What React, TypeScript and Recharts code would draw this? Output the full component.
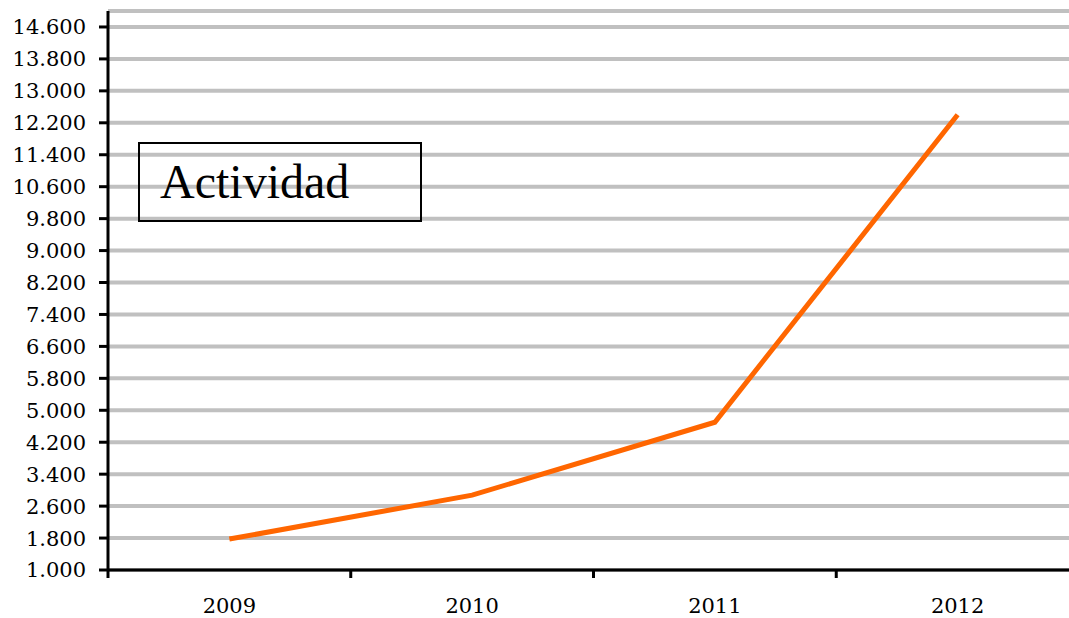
import React from "react";
import { LineChart, Line, XAxis, YAxis, CartesianGrid } from "recharts";

const years = ["2009", "2010", "2011", "2012"];
const actividad = [1775, 2875, 4700, 12400];
const yTicks = [
  1000, 1800, 2600, 3400, 4200, 5000, 5800, 6600, 7400, 8200, 9000, 9800,
  10600, 11400, 12200, 13000, 13800, 14600,
];
const boundaryTicks = [0, 1, 2, 3, 4];
const labelTicks = [0.5, 1.5, 2.5, 3.5];

const chartData = years.map((year, i) => ({
  x: i + 0.5,
  year,
  value: actividad[i],
}));

// thousands separator with a dot, as in the original
const formatNumber = (v: number) =>
  String(Math.round(v)).replace(/\B(?=(\d{3})+(?!\d))/g, ".");

const tickFont = { fontFamily: "'DejaVu Serif', serif", fontSize: 21, fill: "#000" };

export default function App() {
  return (
    <div
      style={{
        position: "relative",
        width: 1069,
        height: 618,
        overflow: "hidden",
      }}
    >
      <style>{`html, body { margin: 0; padding: 0; overflow: hidden; }`}</style>
      <LineChart
        width={1079}
        height={618}
        data={chartData}
        margin={{ top: 11, right: 0, bottom: 0, left: 0 }}
      >
        <CartesianGrid
          horizontal
          vertical={false}
          stroke="#c0c0c0"
          strokeWidth={4}
        />
        {/* axis line + tick marks between categories */}
        <XAxis
          xAxisId="a"
          type="number"
          dataKey="x"
          domain={[0, 4]}
          ticks={boundaryTicks}
          tickFormatter={() => ""}
          tickSize={8}
          height={10}
          stroke="#000"
          strokeWidth={3}
          tickLine={{ stroke: "#000", strokeWidth: 3 }}
        />
        {/* year labels centred in each category */}
        <XAxis
          xAxisId="b"
          type="number"
          dataKey="x"
          domain={[0, 4]}
          ticks={labelTicks}
          tickFormatter={(v: number) => years[Math.floor(v)]}
          axisLine={false}
          tickLine={false}
          tickSize={0}
          tickMargin={18}
          height={38}
          tick={tickFont}
        />
        <YAxis
          type="number"
          domain={[1000, 15000]}
          ticks={yTicks}
          interval={0}
          tickFormatter={formatNumber}
          width={108}
          tickSize={9}
          tickMargin={13}
          stroke="#000"
          strokeWidth={3}
          tickLine={{ stroke: "#000", strokeWidth: 3 }}
          tick={tickFont}
        />
        <Line
          xAxisId="a"
          type="linear"
          dataKey="value"
          name="Actividad"
          stroke="#ff6600"
          strokeWidth={5}
          dot={false}
          isAnimationActive={false}
        />
      </LineChart>
      <div
        style={{
          position: "absolute",
          left: 138,
          top: 142,
          width: 284,
          height: 80,
          border: "2px solid #000",
          boxSizing: "border-box",
          fontFamily: "'Liberation Serif', serif",
          fontSize: 48,
          lineHeight: "76px",
          paddingLeft: 20,
          color: "#000",
        }}
      >
        Actividad
      </div>
    </div>
  );
}
